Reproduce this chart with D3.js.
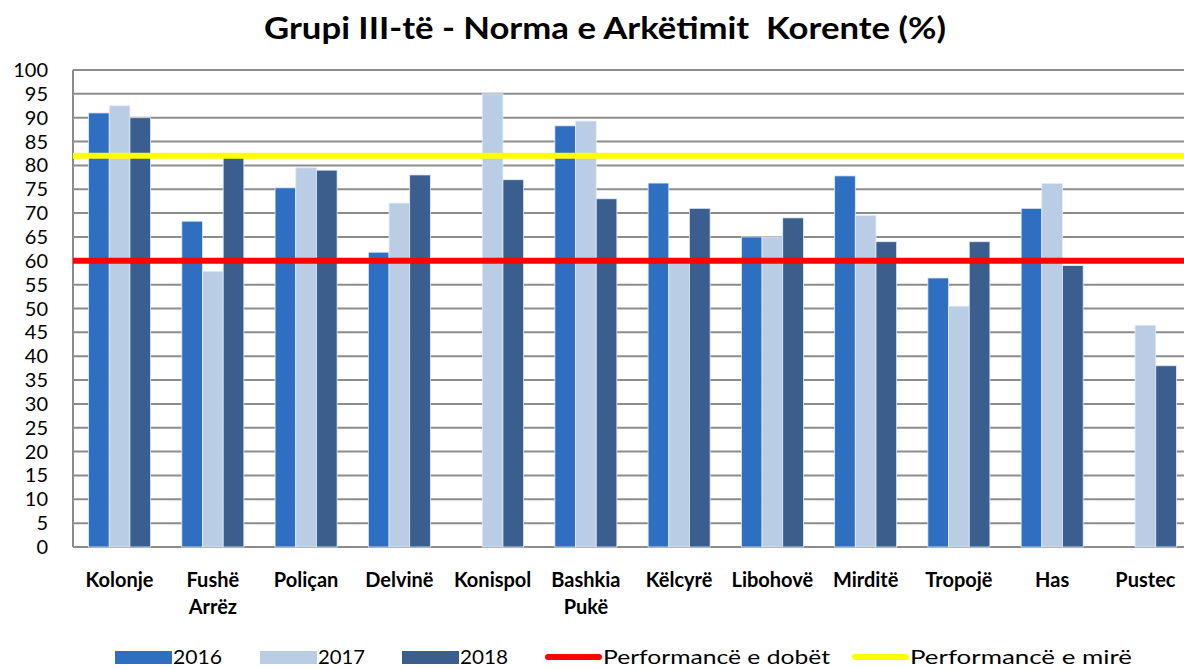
<!DOCTYPE html>
<html lang="en">
<head>
<meta charset="utf-8" />
<title>Grupi III-të</title>
<script src="https://cdn.jsdelivr.net/npm/d3@7"></script>
<style>
  body { margin: 0; background: #fff; }
  text { font-family: Lato, "Open Sans", sans-serif; fill: #000; }
</style>
</head>
<body>
<script>
var categories = ['Kolonje', 'Fushë Arrëz', 'Poliçan', 'Delvinë', 'Konispol', 'Bashkia Pukë',
  'Këlcyrë', 'Libohovë', 'Mirditë', 'Tropojë', 'Has', 'Pustec'];
var years = ['2016', '2017', '2018'];
var v2016 = [91, 68.3, 75.3, 61.8, null, 88.3, 76.3, 65, 77.8, 56.4, 71, null];
var v2017 = [92.5, 57.8, 79.5, 72.1, 95, 89.3, 60, 65, 69.5, 50.5, 76.2, 46.5];
var v2018 = [90, 81.7, 79, 78, 77, 73, 71, 69, 64, 64, 59, 38];
var yTicks = d3.range(0, 101, 5);
var weakLine = 60, goodLine = 82;
var colors = ['#2f6fc1', '#b9cde5', '#3a5f8f'];

var W = 1184, H = 669;
var margin = {left: 73, right: 1192, top: 70, bottom: 547};

var svg = d3.select('body').append('svg').attr('width', W).attr('height', H);

svg.append('text').attr('x', 264).attr('y', 39)
  .attr('textLength', 682).attr('lengthAdjust', 'spacingAndGlyphs')
  .style('font-size', '30px').style('font-weight', 'bold').style('white-space', 'pre')
  .text('Grupi III-të - Norma e Arkëtimit  Korente (%)');

var x0 = d3.scaleBand().domain(categories).range([margin.left, margin.right])
  .paddingInner(0.335).paddingOuter(0.167);
var x1 = d3.scaleBand().domain(years).range([0, x0.bandwidth()]);
var y = d3.scaleLinear().domain([0, 100]).range([margin.bottom, margin.top]);

// gridlines
svg.append('g').selectAll('line').data(yTicks).join('line')
  .attr('x1', margin.left).attr('x2', W)
  .attr('y1', function(d) { return y(d); }).attr('y2', function(d) { return y(d); })
  .attr('stroke', '#8c8c8c').attr('stroke-width', 2);

svg.append('line').attr('x1', margin.left).attr('x2', margin.left)
  .attr('y1', margin.top).attr('y2', margin.bottom)
  .attr('stroke', '#8c8c8c').attr('stroke-width', 2);

// y labels
svg.append('g').selectAll('text').data(yTicks).join('text')
  .attr('x', 48).attr('y', function(d) { return y(d) + 7; })
  .attr('text-anchor', 'end').style('font-size', '20px')
  .text(function(d) { return d; });

// bars
var series = [v2016, v2017, v2018];
series.forEach(function(vals, si) {
  svg.append('g').selectAll('rect').data(categories).join('rect')
    .filter(function(c, i) { return vals[i] != null; })
    .attr('x', function(c) { return x0(c) + x1(years[si]); })
    .attr('width', x1.bandwidth())
    .attr('y', function(c) { return y(vals[categories.indexOf(c)]); })
    .attr('height', function(c) { return y(0) - y(vals[categories.indexOf(c)]); })
    .attr('fill', colors[si])
    .attr('stroke', '#e4ebf5').attr('stroke-width', 0.8);
});

// reference lines
[[weakLine, '#ff0000'], [goodLine, '#ffff00']].forEach(function(l) {
  svg.append('line').attr('x1', margin.left).attr('x2', W)
    .attr('y1', y(l[0])).attr('y2', y(l[0]))
    .attr('stroke', l[1]).attr('stroke-width', 6);
});

// category labels
svg.append('g').selectAll('text').data(categories).join('text')
  .attr('x', function(c) { return x0(c) + x0.bandwidth() / 2; })
  .attr('y', 587).attr('text-anchor', 'middle')
  .style('font-size', '20px').style('font-weight', 'bold')
  .each(function(c) {
    var parts = c.split(' ');
    var t = d3.select(this);
    parts.forEach(function(p, i) {
      t.append('tspan').attr('x', x0(c) + x0.bandwidth() / 2).attr('dy', i ? 27 : 0).text(p);
    });
  });

// legend
var legend = [
  {label: '2016', color: colors[0], type: 'rect', x: 115, w: 49},
  {label: '2017', color: colors[1], type: 'rect', x: 260, w: 47},
  {label: '2018', color: colors[2], type: 'rect', x: 402, w: 48},
  {label: 'Performancë e dobët', color: '#ff0000', type: 'line', x: 545, w: 227},
  {label: 'Performancë e mirë', color: '#ffff00', type: 'line', x: 852, w: 222}
];
var lg = svg.append('g');
legend.forEach(function(d) {
  if (d.type === 'rect') {
    lg.append('rect').attr('x', d.x).attr('y', 651).attr('width', 57).attr('height', 13).attr('fill', d.color);
  } else {
    lg.append('line').attr('x1', d.x + 3).attr('x2', d.x + 54).attr('y1', 657).attr('y2', 657)
      .attr('stroke', d.color).attr('stroke-width', 6).attr('stroke-linecap', 'round');
  }
  lg.append('text').attr('x', d.x + 58).attr('y', 664).style('font-size', '20px')
    .attr('textLength', d.w).attr('lengthAdjust', 'spacingAndGlyphs')
    .text(d.label);
});
</script>
</body>
</html>
